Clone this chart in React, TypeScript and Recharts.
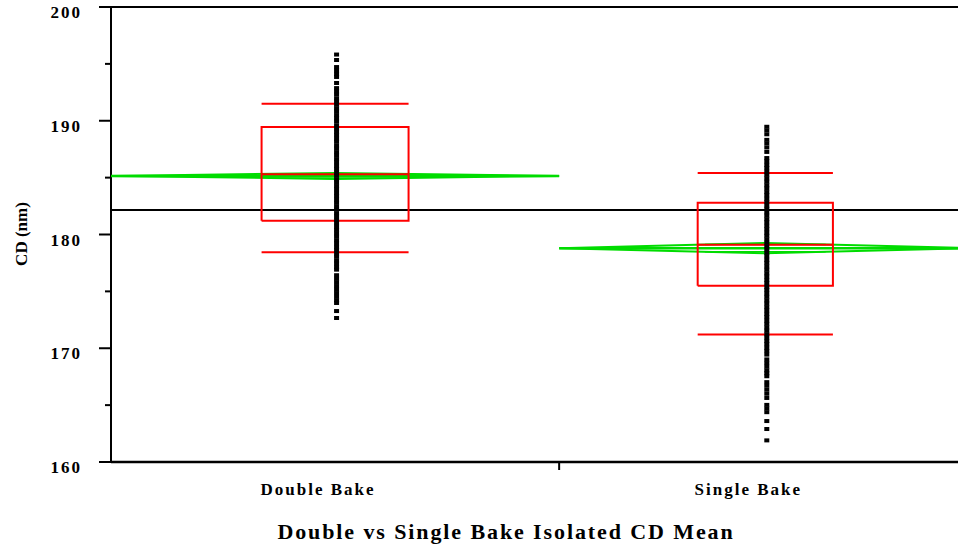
import { ComposedChart, Scatter, XAxis, YAxis, ReferenceLine } from 'recharts';

// one-way analysis of CD by bake type
const groups = ['Double Bake', 'Single Bake'];
const groupMeans = [185.15, 178.8];
const meanCI = [0.26, 0.45];
const whiskerHigh = [191.5, 185.4];
const quartile3 = [189.45, 182.8];
const medians = [185.3, 179.1];
const quartile1 = [181.2, 175.5];
const whiskerLow = [178.45, 171.2];
const grandMean = 182.15;

const doubleBakeCD = [
  195.82, 195.34, 194.72, 194.42, 194.12, 193.85, 193.32, 192.87, 192.58, 192.3, 191.97,
  191.7, 191.41, 191.1, 190.82, 190.5, 190.21, 189.93, 189.6, 189.33, 189.02, 188.74,
  188.42, 188.15, 187.83, 187.55, 187.24, 186.95, 186.63, 186.35, 186.04, 185.76, 185.45,
  185.16, 184.85, 184.57, 184.26, 183.98, 183.66, 183.38, 183.07, 182.78, 182.47, 182.2,
  181.88, 181.6, 181.28, 181.0, 180.69, 180.4, 180.1, 179.81, 179.5, 179.22, 178.91,
  178.63, 178.32, 178.04, 177.72, 177.45, 177.15, 176.91, 176.42, 176.1, 175.8, 175.47,
  175.15, 174.85, 174.52, 174.22, 173.98, 173.27, 172.66,
];

const singleBakeCD = [
  189.47, 189.15, 188.81, 188.32, 188.0, 187.65, 187.26, 186.72, 186.43, 186.12, 185.84,
  185.52, 185.24, 184.93, 184.64, 184.33, 184.05, 183.73, 183.45, 183.14, 182.85, 182.54,
  182.26, 181.95, 181.66, 181.35, 181.07, 180.76, 180.47, 180.16, 179.88, 179.57, 179.28,
  178.97, 178.69, 178.38, 178.09, 177.78, 177.5, 177.19, 176.9, 176.59, 176.31, 176.0,
  175.71, 175.4, 175.12, 174.81, 174.52, 174.21, 173.93, 173.62, 173.33, 173.02, 172.74,
  172.43, 172.14, 171.83, 171.55, 171.24, 170.95, 170.64, 170.36, 170.05, 169.76, 169.44,
  169.02, 168.7, 168.38, 168.06, 167.8, 167.54, 167.02, 166.7, 166.35, 166.0, 165.63,
  165.02, 164.7, 164.38, 163.6, 162.9, 161.9,
];

const groupValues = [doubleBakeCD, singleBakeCD];
const yTicks = [160, 165, 170, 175, 180, 185, 190, 195, 200];

// layout: each group gets a band on the x scale, width ~ sample size
const bandStart = [0, 1.0];
const bandEnd = [1.0, 1.92];
const PLOT_LEFT = 111;
const PLOT_BOTTOM = 462;
const RED = '#ff0000';
const GREEN = '#00dc00';
const FONT = '"Liberation Serif", "Times New Roman", serif';

const center = (i: number) => (bandStart[i] + bandEnd[i]) / 2;
const halfBand = (i: number) => (bandEnd[i] - bandStart[i]) / 2;

const NoShape = () => <g />;
const PointShape = (props: any) => (
  <rect x={props.cx - 2.5 + 1.5} y={props.cy - 2} width={5} height={4} fill="#000" />
);

const YTick = (props: any) => {
  const { y, payload } = props;
  const major = payload.value % 10 === 0;
  return (
    <g>
      <line x1={PLOT_LEFT - (major ? 12 : 6)} x2={PLOT_LEFT} y1={y} y2={y} stroke="#000" strokeWidth={2} />
      {major && (
        <text
          x={82}
          y={y + 11}
          textAnchor="end"
          fontFamily={FONT}
          fontWeight="bold"
          fontSize={17}
          letterSpacing={2}
          fill="#000"
        >
          {payload.value}
        </text>
      )}
    </g>
  );
};

const XTick = (props: any) => {
  const { x, payload } = props;
  const idx = groups.findIndex((_, i) => Math.abs(center(i) - payload.value) < 1e-6);
  if (idx < 0) {
    return <line x1={x} x2={x} y1={PLOT_BOTTOM} y2={PLOT_BOTTOM + 8} stroke="#000" strokeWidth={2} />;
  }
  return (
    <text
      x={x - 17}
      y={PLOT_BOTTOM + 33}
      textAnchor="middle"
      fontFamily={FONT}
      fontWeight="bold"
      fontSize={17}
      letterSpacing={2}
      fill="#000"
    >
      {groups[idx]}
    </text>
  );
};

const TitleLabel = () => (
  <text
    x={506}
    y={539}
    textAnchor="middle"
    fontFamily={FONT}
    fontWeight="bold"
    fontSize={22}
    letterSpacing={1.9}
    fill="#000"
  >
    Double vs Single Bake Isolated CD Mean
  </text>
);

const YLabel = () => (
  <text
    x={27}
    y={234}
    transform="rotate(-90, 27, 234)"
    textAnchor="middle"
    fontFamily={FONT}
    fontWeight="bold"
    fontSize={17}
    fill="#000"
  >
    CD (nm)
  </text>
);

const seg = (x1: number, x2: number, y: number) => [
  { x: x1, y },
  { x: x2, y },
];

export default function App() {
  const xTicks = [center(0), bandEnd[0], center(1)];

  return (
    <div style={{ position: 'absolute', left: 0, top: 0, width: 958, height: 548, background: '#fff' }}>
      <ComposedChart width={958} height={548} margin={{ top: 7, right: 0, bottom: 0, left: 0 }}>
        <XAxis
          type="number"
          dataKey="x"
          domain={[0, 1.89]}
          allowDataOverflow
          ticks={xTicks}
          interval={0}
          tick={<XTick />}
          tickLine={false}
          axisLine={{ stroke: '#000', strokeWidth: 2.5 }}
          height={86}
          label={<TitleLabel />}
        />
        <YAxis
          type="number"
          dataKey="y"
          domain={[160, 200]}
          ticks={yTicks}
          interval={0}
          tick={<YTick />}
          tickLine={false}
          axisLine={{ stroke: '#000', strokeWidth: 2 }}
          width={PLOT_LEFT}
          label={<YLabel />}
        />
        <ReferenceLine y={200} stroke="#000" strokeWidth={2} />
        <ReferenceLine y={grandMean} stroke="#000" strokeWidth={2} />

        {groups.map((g, i) => {
          const c = center(i);
          const hw = halfBand(i);
          const m = groupMeans[i];
          const ci = meanCI[i];
          const ov = ci * Math.SQRT1_2;
          const ovw = hw * (1 - Math.SQRT1_2);
          return [
            <Scatter
              key={g + '-diamond'}
              data={[
                { x: bandStart[i], y: m },
                { x: c, y: m + ci },
                { x: bandEnd[i], y: m },
                { x: c, y: m - ci },
                { x: bandStart[i], y: m },
              ]}
              line={{ stroke: GREEN, strokeWidth: 2 }}
              shape={NoShape}
              isAnimationActive={false}
            />,
            <Scatter
              key={g + '-mean'}
              data={seg(bandStart[i], bandEnd[i], m)}
              line={{ stroke: GREEN, strokeWidth: 2.5 }}
              shape={NoShape}
              isAnimationActive={false}
            />,
            <Scatter
              key={g + '-ovhi'}
              data={seg(c - ovw, c + ovw, m + ov)}
              line={{ stroke: GREEN, strokeWidth: 1.5 }}
              shape={NoShape}
              isAnimationActive={false}
            />,
            <Scatter
              key={g + '-ovlo'}
              data={seg(c - ovw, c + ovw, m - ov)}
              line={{ stroke: GREEN, strokeWidth: 1.5 }}
              shape={NoShape}
              isAnimationActive={false}
            />,
          ];
        })}

        {groups.map((g, i) => {
          const c = center(i);
          const bw = halfBand(i) * 0.328;
          return [
            <Scatter
              key={g + '-box'}
              data={[
                { x: c - bw, y: quartile1[i] },
                { x: c - bw, y: quartile3[i] },
                { x: c + bw, y: quartile3[i] },
                { x: c + bw, y: quartile1[i] },
                { x: c - bw, y: quartile1[i] },
              ]}
              line={{ stroke: RED, strokeWidth: 2 }}
              shape={NoShape}
              isAnimationActive={false}
            />,
            <Scatter
              key={g + '-median'}
              data={seg(c - bw, c + bw, medians[i])}
              line={{ stroke: RED, strokeWidth: 2 }}
              shape={NoShape}
              isAnimationActive={false}
            />,
            <Scatter
              key={g + '-whi'}
              data={seg(c - bw, c + bw, whiskerHigh[i])}
              line={{ stroke: RED, strokeWidth: 2 }}
              shape={NoShape}
              isAnimationActive={false}
            />,
            <Scatter
              key={g + '-wlo'}
              data={seg(c - bw, c + bw, whiskerLow[i])}
              line={{ stroke: RED, strokeWidth: 2 }}
              shape={NoShape}
              isAnimationActive={false}
            />,
          ];
        })}

        {groups.map((g, i) => (
          <Scatter
            key={g + '-points'}
            data={groupValues[i].map((v) => ({ x: center(i), y: v }))}
            shape={PointShape}
            isAnimationActive={false}
          />
        ))}
      </ComposedChart>
    </div>
  );
}
